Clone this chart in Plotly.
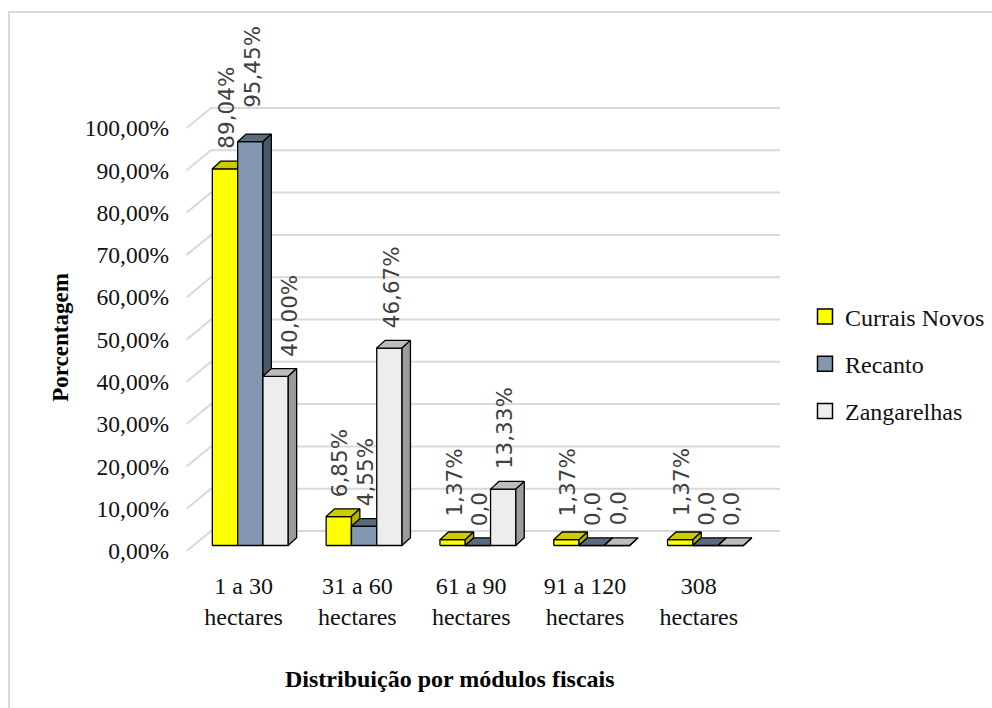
import plotly.graph_objects as go

# ---------------- data ----------------
categories = ["1 a 30<br>hectares", "31 a 60<br>hectares", "61 a 90<br>hectares",
              "91 a 120<br>hectares", "308<br>hectares"]
series_names = ["Currais Novos", "Recanto", "Zangarelhas"]
currais_novos = [89.04, 6.85, 1.37, 1.37, 1.37]
recanto = [95.45, 4.55, 0.0, 0.0, 0.0]
zangarelhas = [40.00, 46.67, 13.33, 0.0, 0.0]
y_tick_values = [0, 10, 20, 30, 40, 50, 60, 70, 80, 90, 100]
y_tick_labels = ["0,00%", "10,00%", "20,00%", "30,00%", "40,00%", "50,00%",
                 "60,00%", "70,00%", "80,00%", "90,00%", "100,00%"]
x_title = "Distribuição por módulos fiscais"
y_title = "Porcentagem"

series_values = [currais_novos, recanto, zangarelhas]

# ---------------- styles ----------------
front_colors = ["#FFFF00", "#8497B0", "#EDEDED"]
top_colors = ["#CCCC00", "#5A6B80", "#BDBDBD"]
side_colors = ["#B3B300", "#4A5868", "#9C9C9C"]
grid_color = "#D9D9D9"
serif = "Liberation Serif, Times New Roman, serif"

# ---------------- geometry (pixels) ----------------
W, H = 992, 708
L, R = 170, 800
T = 100
Y0_PX = 551.5          # front edge of floor (value 0)
CAT0_PX = 243.6        # first category centre
PX_PER_CAT = 113.8
PX_PER_PCT = 4.235


def ux(px):
    return px / PX_PER_CAT


def uy(px):
    return px / PX_PER_PCT


x_range = [(L - CAT0_PX) / PX_PER_CAT, (R - CAT0_PX) / PX_PER_CAT]
y_range = [0, (Y0_PX - T) / PX_PER_PCT]

bar_w = ux(25.3)
fx, fy = ux(6.7), uy(5.5)       # bar front plane offset from floor front
dx, dy = ux(8.4), uy(7.7)       # bar depth
wx, wy = ux(24.3), uy(20.0)     # back-wall depth

fig = go.Figure()

# back wall gridlines + left wall diagonals
gx, gy = [], []
floor_left = -0.5
floor_right = len(categories) - 0.5
for v in y_tick_values:
    gx += [floor_left, floor_left + wx, floor_right + wx, None]
    gy += [v, v + wy, v + wy, None]
fig.add_trace(go.Scatter(x=gx, y=gy, mode="lines", line=dict(color=grid_color, width=2),
                         hoverinfo="skip", showlegend=False))

# 3D bars
for s, vals in enumerate(series_values):
    faces = {"front": ([], []), "top": ([], []), "side": ([], [])}
    for i, v in enumerate(vals):
        xl = i + fx - 1.5 * bar_w + s * bar_w
        xr = xl + bar_w
        yb = fy
        yt = fy + v
        fxs, fys = faces["front"]
        fxs += [xl, xr, xr, xl, xl, None]
        fys += [yb, yb, yt, yt, yb, None]
        txs, tys = faces["top"]
        txs += [xl, xr, xr + dx, xl + dx, xl, None]
        tys += [yt, yt, yt + dy, yt + dy, yt, None]
        sxs, sys_ = faces["side"]
        sxs += [xr, xr + dx, xr + dx, xr, xr, None]
        sys_ += [yb, yb + dy, yt + dy, yt, yb, None]
    for face, col in (("front", front_colors[s]), ("top", top_colors[s]), ("side", side_colors[s])):
        xs, ys = faces[face]
        fig.add_trace(go.Scatter(x=xs, y=ys, mode="lines", fill="toself", fillcolor=col,
                                 line=dict(color="#000000", width=1.3),
                                 hoverinfo="skip", showlegend=False))

# legend entries
for s, name in enumerate(series_names):
    fig.add_trace(go.Scatter(x=[None], y=[None], mode="markers", name=name,
                             legendgroup=name,
                             marker=dict(symbol="square", size=15, color=front_colors[s],
                                         line=dict(color="#000000", width=1.5))))

# data labels
label_nudge = {(0, 1): (0, 14), (0, 2): (12, 0), (2, 0): (0, 3.5), (3, 0): (0, 3.5), (4, 0): (0, 3.5)}
annotations = []
for s, vals in enumerate(series_values):
    for i, v in enumerate(vals):
        txt = (f"{v:.2f}".replace(".", ",") + "%") if v > 0 else "0,0"
        xc = i + fx - 1.5 * bar_w + (s + 0.5) * bar_w
        nx, ny = label_nudge.get((i, s), (0, 0))
        annotations.append(dict(
            x=xc, y=fy + v + dy, xref="x", yref="y", text=txt, showarrow=False,
            textangle=-90, xanchor="center", yanchor="bottom",
            xshift=1.5 + nx, yshift=11 + ny, borderpad=0,
            font=dict(family="DejaVu Sans", size=21.5, color="#404040")))


def paper_x(px):
    return (px - L) / (R - L)


def paper_y(py):
    return (Y0_PX - py) / (Y0_PX - T)


annotations.append(dict(x=paper_x(61), y=paper_y(338), xref="paper", yref="paper",
                        text=f"<b>{y_title}</b>", showarrow=False, textangle=-90,
                        xanchor="center", yanchor="middle",
                        font=dict(family=serif, size=23, color="#000000")))
annotations.append(dict(x=paper_x(450), y=paper_y(680), xref="paper", yref="paper",
                        text=f"<b>{x_title}</b>", showarrow=False,
                        xanchor="center", yanchor="middle",
                        font=dict(family=serif, size=24, color="#000000")))

fig.update_layout(
    width=W, height=H,
    font=dict(family=serif, size=24, color="#111111"),
    margin=dict(l=L, r=W - R, t=T, b=H - Y0_PX, pad=0),
    paper_bgcolor="#FFFFFF", plot_bgcolor="rgba(0,0,0,0)",
    xaxis=dict(range=x_range, tickmode="array", tickvals=list(range(len(categories))),
               ticktext=categories, showgrid=False, zeroline=False, showline=False,
               ticks="", automargin=False, fixedrange=True, ticklabelstandoff=18,
               tickfont=dict(family=serif, size=24, color="#111111")),
    yaxis=dict(range=y_range, tickmode="array", tickvals=y_tick_values, ticktext=y_tick_labels,
               showgrid=False, zeroline=False, showline=False, ticks="", automargin=False,
               fixedrange=True,
               tickfont=dict(family=serif, size=23.5, color="#111111")),
    legend=dict(xref="container", yref="container", x=805 / W, y=1 - 364 / H,
                xanchor="left", yanchor="middle",
                bgcolor="rgba(0,0,0,0)", tracegroupgap=13,
                font=dict(family=serif, size=24, color="#111111")),
    annotations=annotations,
    shapes=[dict(type="rect", xref="paper", yref="paper",
                 x0=paper_x(9), y0=paper_y(12), x1=paper_x(1100), y1=paper_y(800),
                 line=dict(color=grid_color, width=2), layer="below")],
    showlegend=True,
)

fig.write_html("out.html")
